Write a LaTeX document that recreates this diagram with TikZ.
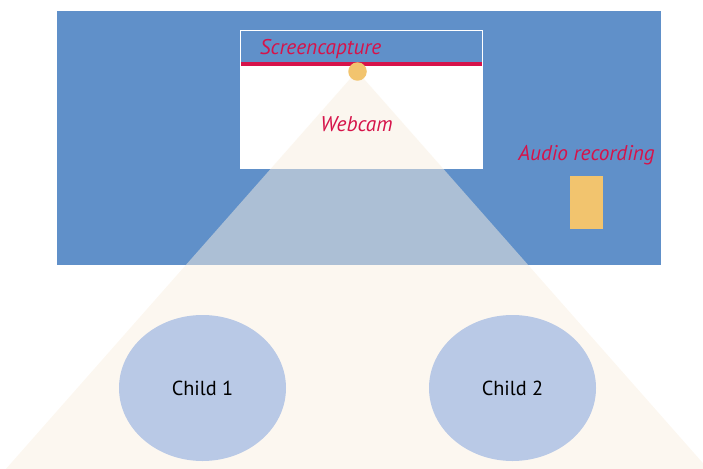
\documentclass[tikz,border=0pt]{standalone}
\usepackage{fontspec}
\setmainfont{PT Sans}
\usetikzlibrary{shapes.geometric}
\begin{document}
\begin{tikzpicture}[x=1pt,y=-1pt,
  lbl/.style={text=crimson,font=\itshape\fontsize{21.3}{24}\selectfont,inner sep=0pt,anchor=base},
  child/.style={ellipse,fill=childblue,minimum width=167pt,minimum height=146pt,font=\fontsize{20.3}{24}\selectfont,inner sep=0pt}]
\definecolor{crimson}{RGB}{214,19,74}
\definecolor{wallblue}{RGB}{96,144,201}
\definecolor{camyellow}{RGB}{242,196,110}
\definecolor{beam}{RGB}{249,239,225}
\definecolor{childblue}{RGB}{185,201,230}
\useasboundingbox (0,0) rectangle (703,468);
\clip (0,0) rectangle (703,468);
\fill[wallblue] (57,11) rectangle (661,265);
\fill[white] (240,64) rectangle (483,168);
\draw[white,line width=1.2pt] (240.6,30.6) rectangle (482.4,168);
\fill[beam,opacity=0.5] (357,71) -- (5,470) -- (709,470) -- cycle;
\draw[crimson,line width=4.5pt] (241,64) -- (482,64);
\node[circle,fill=camyellow,minimum size=18.5pt,inner sep=0pt] (cam) at (357.5,71.5) {};
\node[lbl] (screen) at (320.5,55) {Screencapture};
\node[lbl] (webcam) at (356.5,131.5) {Webcam};
\node[lbl] (audio) at (586.5,160) {Audio recording};
\node[fill=camyellow,minimum width=33pt,minimum height=53pt,inner sep=0pt] (mic) at (586.5,202.5) {};
\node[child] (c1) at (202.5,388) {Child 1};
\node[child] (c2) at (512.5,388) {Child 2};
\end{tikzpicture}
\end{document}
